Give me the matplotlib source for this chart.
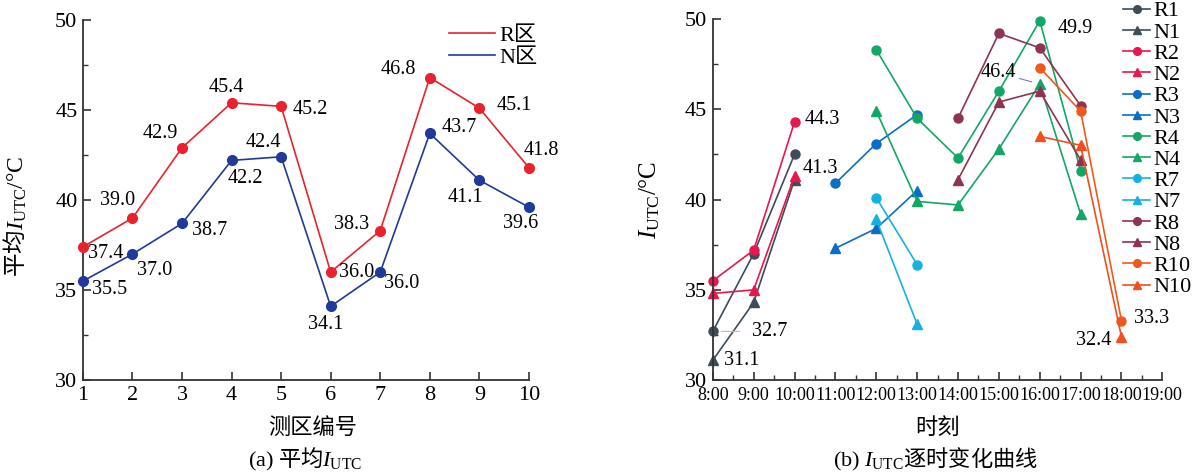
import numpy as np
import matplotlib.pyplot as plt
from matplotlib.lines import Line2D

plt.rcParams['font.family'] = ['Liberation Serif', 'Noto Sans CJK SC']
# mathtext : I en italique serif, indices en sf (serif)
plt.rcParams['mathtext.fontset'] = 'custom'
plt.rcParams['mathtext.rm'] = 'Liberation Serif'
plt.rcParams['mathtext.it'] = 'Liberation Serif:italic'
plt.rcParams['mathtext.sf'] = 'Liberation Serif'
cjk = 'Noto Sans CJK SC'

# (a) 平均 IUTC
zones = [1, 2, 3, 4, 5, 6, 7, 8, 9, 10]
r_mean = [37.4, 39.0, 42.9, 45.4, 45.2, 36.0, 38.3, 46.8, 45.1, 41.8]
n_mean = [35.5, 37.0, 38.7, 42.2, 42.4, 34.1, 36.0, 43.7, 41.1, 39.6]

# (b) 逐时变化
hours = [8, 9, 10, 11, 12, 13, 14, 15, 16, 17, 18, 19]
h_r1 = [8, 9, 10]
r1 = [32.7, 37.0, 42.5]
n1 = [31.1, 34.3, 41.1]
r2 = [35.5, 37.2, 44.3]
n2 = [34.8, 35.0, 41.3]
h_r3 = [11, 12, 13]
r3 = [40.9, 43.1, 44.7]
n3 = [37.3, 38.4, 40.5]
h_r4 = [12, 13, 14, 15, 16, 17]
r4 = [48.3, 44.5, 42.3, 46.0, 49.9, 41.6]
n4 = [44.9, 39.9, 39.7, 42.8, 46.4, 39.2]
h_r7 = [12, 13]
r7 = [40.1, 36.4]
n7 = [38.9, 33.1]
h_r8 = [14, 15, 16, 17]
r8 = [44.5, 49.2, 48.4, 45.2]
n8 = [41.1, 45.4, 46.0, 42.2]
h_r10 = [16, 17, 18]
r10 = [47.3, 44.9, 33.3]
n10 = [43.5, 43.0, 32.4]

fig = plt.figure(figsize=(12.02, 4.74), dpi=100)
ax1 = fig.add_axes([0.069, 0.198, 0.371, 0.760])
ax2 = fig.add_axes([0.593, 0.198, 0.374, 0.762])

red = '#e8232e'
blue = '#20399a'
ax1.plot(zones, r_mean, '-o', color=red, lw=1.2, ms=7, clip_on=False, zorder=3)
ax1.plot(zones, n_mean, '-o', color=blue, lw=1.2, ms=7, clip_on=False, zorder=3)

# decalages des etiquettes (pixels)
r_off = [(23, -7), (-15, 18), (-22, 14), (-5, 15), (29, -3), (26, 0), (-29, 6), (-31, 8), (35, 3), (12, 17)]
n_off = [(27, -8), (22, -16), (28, -7), (14, -18), (-18, 14), (-5, -18), (21, -11), (30, 6), (-14, -17), (-8, -16)]
for x, y, o in zip(zones, r_mean, r_off):
    ax1.annotate(f'{y:.1f}', (x, y), xytext=o, textcoords='offset pixels',
                 ha='center', va='center', fontsize=14.5, annotation_clip=False)
for x, y, o in zip(zones, n_mean, n_off):
    ax1.annotate(f'{y:.1f}', (x, y), xytext=o, textcoords='offset pixels',
                 ha='center', va='center', fontsize=14.5, annotation_clip=False)

ax1.set_xlim(1, 10)
ax1.set_ylim(30, 50)
ax1.set_xticks(zones)
ax1.set_yticks([30, 35, 40, 45, 50])
ax1.set_yticks(np.arange(32.5, 50, 5), minor=True)
ax1.set_xlabel('测区编号', fontsize=16)
ax1.xaxis.set_label_coords(0.515, -0.105)
ax1.set_ylabel(r'平均$I_{\mathsf{UTC}}\mathsf{/°C}$', fontsize=17, fontfamily=cjk)
ax1.yaxis.set_label_coords(-0.12, 0.455)
handles = [Line2D([], [], color=red, lw=1.2), Line2D([], [], color=blue, lw=1.2)]
ax1.legend(handles, ['R区', 'N区'], loc='upper left', bbox_to_anchor=(0.82, 0.985), frameon=False, fontsize=16,
           handlelength=2.1, handletextpad=0.2, labelspacing=0.05, borderpad=0, borderaxespad=0)

series = [
    ('R1', h_r1, r1, 'o', '#3e4c58'),
    ('N1', h_r1, n1, '^', '#3e4c58'),
    ('R2', h_r1, r2, 'o', '#e8174c'),
    ('N2', h_r1, n2, '^', '#e8174c'),
    ('R3', h_r3, r3, 'o', '#0a6dc6'),
    ('N3', h_r3, n3, '^', '#0a6dc6'),
    ('R4', h_r4, r4, 'o', '#12a765'),
    ('N4', h_r4, n4, '^', '#12a765'),
    ('R7', h_r7, r7, 'o', '#14b2e0'),
    ('N7', h_r7, n7, '^', '#14b2e0'),
    ('R8', h_r8, r8, 'o', '#8e3350'),
    ('N8', h_r8, n8, '^', '#8e3350'),
    ('R10', h_r10, r10, 'o', '#f0591c'),
    ('N10', h_r10, n10, '^', '#f24e1e'),
]
for name, hx, vals, mk, c in series:
    ax2.plot(hx, vals, '-', marker=mk, color=c, lw=1.2, ms=6.5, label=name, clip_on=False)

ax2.annotate('44.3', (10, r2[2]), xytext=(28, 2), textcoords='offset pixels', ha='center', va='center', fontsize=14.5)
ax2.annotate('41.3', (10, n2[2]), xytext=(26, 8), textcoords='offset pixels', ha='center', va='center', fontsize=14.5)
ax2.annotate('32.7', (8, r1[0]), xytext=(57, 0), textcoords='offset pixels', ha='center', va='center', fontsize=14.5,
             arrowprops=dict(arrowstyle='-', color='#f4a3ad', lw=0.8, shrinkA=7, shrinkB=6))
ax2.annotate('31.1', (8, n1[0]), xytext=(29, 0), textcoords='offset pixels', ha='center', va='center', fontsize=14.5)
ax2.annotate('49.9', (16, r4[4]), xytext=(36, -8), textcoords='offset pixels', ha='center', va='center', fontsize=14.5)
ax2.annotate('46.4', (16, n4[4]), xytext=(-41, 11), textcoords='offset pixels', ha='center', va='center', fontsize=14.5,
             arrowprops=dict(arrowstyle='-', color='#6f7fd0', lw=0.8, shrinkA=0, shrinkB=6))
ax2.annotate('33.3', (18, r10[2]), xytext=(30, 2), textcoords='offset pixels', ha='center', va='center', fontsize=14.5)
ax2.annotate('32.4', (18, n10[2]), xytext=(-28, -4), textcoords='offset pixels', ha='center', va='center', fontsize=14.5)

ax2.set_xlim(8, 19)
ax2.set_ylim(30, 50)
ax2.set_xticks(hours)
ax2.set_xticklabels([f'{h}:00' for h in hours], fontsize=13)
ax2.set_xticks(np.arange(8.5, 19, 1), minor=True)
ax2.set_yticks([30, 35, 40, 45, 50])
ax2.set_yticks(np.arange(32.5, 50, 5), minor=True)
ax2.set_xlabel('时刻', fontsize=16, labelpad=10)
ax2.set_ylabel(r'$I_{\mathsf{UTC}}\mathsf{/°C}$', fontsize=18)
ax2.yaxis.set_label_coords(-0.114, 0.5)
ax2.legend(loc='upper left', bbox_to_anchor=(0.913, 1.05), frameon=False, fontsize=16,
           handlelength=1.22, handletextpad=0.14, labelspacing=0.03, borderpad=0, borderaxespad=0, markerscale=0.85)

for ax in (ax1, ax2):
    for s in ('top', 'right'):
        ax.spines[s].set_visible(False)
    for s in ('left', 'bottom'):
        ax.spines[s].set_linewidth(1.3)
        ax.spines[s].set_color('#333333')
    ax.tick_params(which='major', direction='in', length=6, width=1.2, color='#333333')
    ax.tick_params(which='minor', direction='in', length=3.5, width=1.0, color='#333333')
ax1.tick_params(labelsize=16, pad=4)
ax2.tick_params(axis='y', labelsize=16, pad=4)
ax2.tick_params(axis='x', pad=5)

fig.text(0.254, 0.030, r'$\mathsf{(a)\ }$平均$I_{\mathsf{UTC}}$', ha='center', va='center', fontsize=16, fontfamily=cjk)
fig.text(0.778, 0.030, r'$\mathsf{(b)\ }I_{\mathsf{UTC}}$逐时变化曲线', ha='center', va='center', fontsize=16, fontfamily=cjk)

plt.savefig('out.png', dpi=100)
